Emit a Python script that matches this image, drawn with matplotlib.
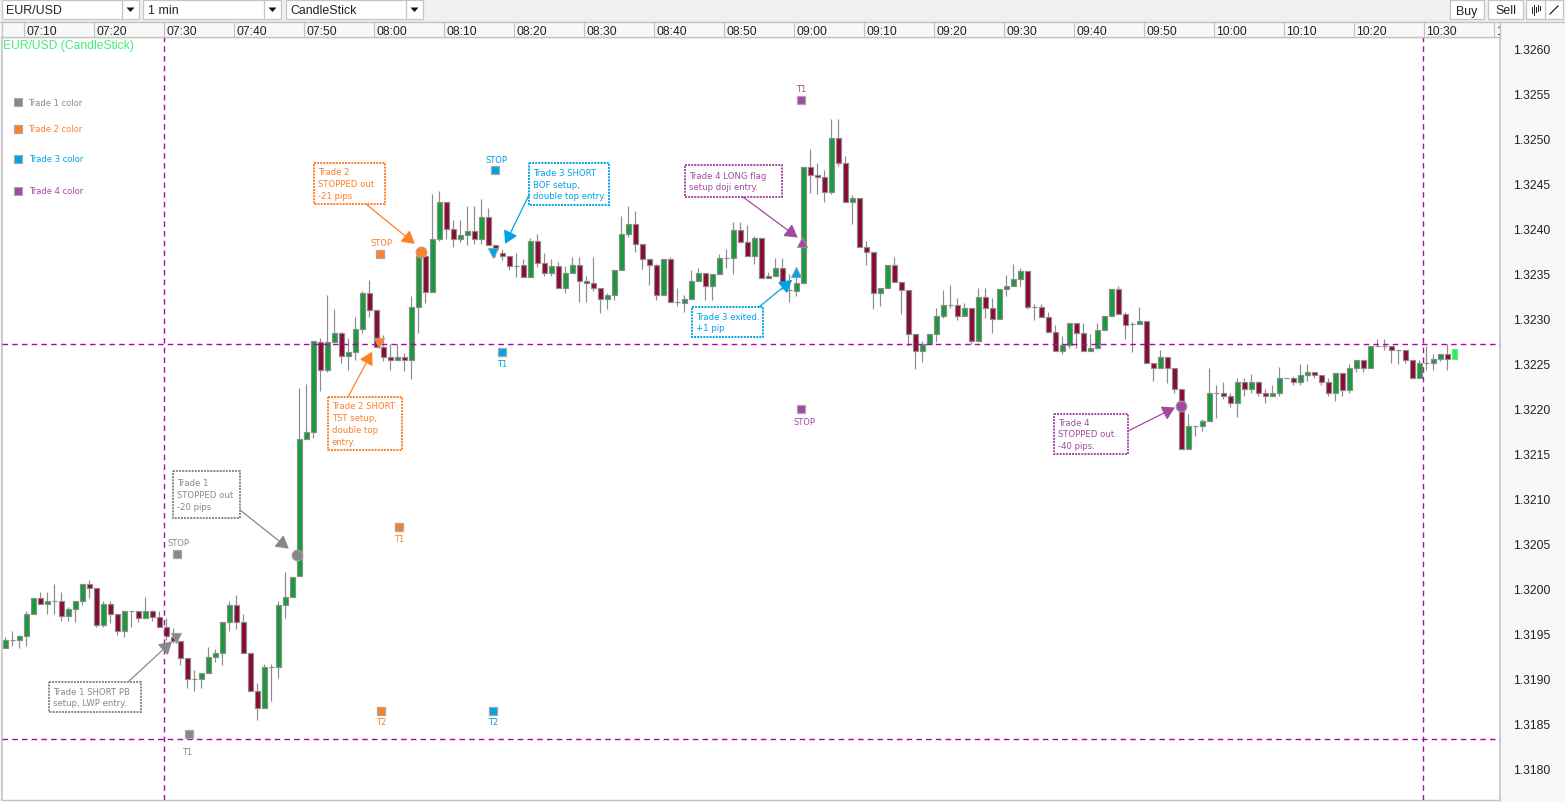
import matplotlib
matplotlib.use("Agg")
import matplotlib.pyplot as plt
from matplotlib.patches import Rectangle, Polygon
from matplotlib.transforms import ScaledTranslation

W, H = 1565, 803

# ---- candle data (one entry per minute) ----
opens = [
1.31934,1.31943,1.31943,1.31947,1.31971,1.31989,1.31983,1.31986,1.31986,1.31969,
1.31977,1.31986,1.32005,1.32000,1.31959,1.31983,1.31971,1.31952,1.31975,1.31975,
1.31967,1.31975,1.31968,1.31957,1.31946,1.31941,1.31922,1.31899,1.31899,1.31906,
1.31924,1.31928,1.31962,1.31981,1.31962,1.31928,1.31886,1.31867,1.31913,1.31913,
1.31981,1.31990,1.32014,1.32166,1.32174,1.32274,1.32243,1.32274,1.32284,1.32258,
1.32263,1.32288,1.32328,1.32309,1.32268,1.32257,1.32254,1.32257,1.32254,1.32313,
1.32369,1.32329,1.32388,1.32430,1.32399,1.32388,1.32393,1.32397,1.32388,1.32413,
1.32382,1.32373,1.32370,1.32358,1.32359,1.32346,1.32386,1.32362,1.32351,1.32358,
1.32334,1.32351,1.32359,1.32342,1.32339,1.32334,1.32322,1.32326,1.32354,1.32394,
1.32405,1.32383,1.32366,1.32359,1.32326,1.32366,1.32318,1.32317,1.32322,1.32342,
1.32351,1.32336,1.32349,1.32367,1.32367,1.32398,1.32385,1.32369,1.32389,1.32347,
1.32347,1.32356,1.32332,1.32331,1.32340,1.32468,1.32459,1.32457,1.32441,1.32501,
1.32473,1.32430,1.32434,1.32380,1.32374,1.32328,1.32334,1.32360,1.32341,1.32332,
1.32283,1.32264,1.32272,1.32283,1.32303,1.32315,1.32315,1.32303,1.32312,1.32275,
1.32324,1.32312,1.32299,1.32333,1.32336,1.32344,1.32353,1.32313,1.32313,1.32302,
1.32285,1.32264,1.32270,1.32295,1.32284,1.32264,1.32267,1.32287,1.32303,1.32333,
1.32305,1.32294,1.32294,1.32297,1.32251,1.32245,1.32257,1.32245,1.32222,1.32155,
1.32180,1.32180,1.32186,1.32217,1.32217,1.32214,1.32206,1.32229,1.32222,1.32229,
1.32217,1.32214,1.32217,1.32234,1.32234,1.32229,1.32237,1.32240,1.32237,1.32229,
1.32217,1.32239,1.32220,1.32245,1.32254,1.32245,1.32269,1.32269,1.32269,1.32265,
1.32265,1.32254,1.32234,1.32251,1.32251,1.32255,1.32261,1.32255]
highs = [
1.31946,1.31952,1.31948,1.31975,1.31989,1.31996,1.31996,1.32005,1.31996,1.31979,
1.31986,1.32005,1.32009,1.32000,1.31986,1.31986,1.31971,1.31975,1.31975,1.31975,
1.31990,1.31976,1.31975,1.31967,1.31956,1.31941,1.31922,1.31909,1.31906,1.31935,
1.31932,1.31962,1.31986,1.31992,1.31971,1.31928,1.31895,1.31916,1.31916,1.31986,
1.32018,1.32013,1.32223,1.32227,1.32275,1.32278,1.32326,1.32310,1.32285,1.32278,
1.32302,1.32331,1.32343,1.32309,1.32282,1.32272,1.32272,1.32262,1.32325,1.32369,
1.32369,1.32438,1.32442,1.32430,1.32409,1.32410,1.32425,1.32425,1.32433,1.32423,
1.32382,1.32377,1.32370,1.32373,1.32366,1.32390,1.32394,1.32373,1.32366,1.32363,
1.32358,1.32368,1.32368,1.32347,1.32368,1.32334,1.32328,1.32354,1.32414,1.32425,
1.32419,1.32383,1.32366,1.32361,1.32366,1.32368,1.32334,1.32326,1.32354,1.32356,
1.32351,1.32349,1.32372,1.32377,1.32407,1.32407,1.32404,1.32392,1.32389,1.32352,
1.32367,1.32367,1.32350,1.32356,1.32468,1.32488,1.32473,1.32465,1.32522,1.32522,
1.32481,1.32437,1.32434,1.32386,1.32374,1.32334,1.32360,1.32368,1.32341,1.32332,
1.32283,1.32275,1.32283,1.32312,1.32332,1.32337,1.32323,1.32317,1.32312,1.32334,
1.32334,1.32323,1.32333,1.32348,1.32361,1.32356,1.32353,1.32316,1.32316,1.32307,
1.32293,1.32281,1.32295,1.32295,1.32295,1.32283,1.32295,1.32303,1.32333,1.32336,
1.32307,1.32296,1.32313,1.32297,1.32251,1.32265,1.32257,1.32245,1.32222,1.32194,
1.32180,1.32188,1.32245,1.32226,1.32229,1.32217,1.32234,1.32234,1.32238,1.32231,
1.32222,1.32226,1.32246,1.32234,1.32236,1.32249,1.32249,1.32240,1.32237,1.32234,
1.32239,1.32239,1.32249,1.32254,1.32254,1.32269,1.32277,1.32277,1.32269,1.32265,
1.32265,1.32254,1.32254,1.32269,1.32261,1.32261,1.32272,1.32266]
lows = [
1.31934,1.31936,1.31934,1.31936,1.31971,1.31983,1.31971,1.31971,1.31964,1.31964,
1.31962,1.31981,1.31989,1.31957,1.31957,1.31961,1.31948,1.31946,1.31957,1.31962,
1.31967,1.31964,1.31957,1.31943,1.31939,1.31915,1.31889,1.31886,1.31889,1.31906,
1.31918,1.31915,1.31953,1.31955,1.31928,1.31886,1.31854,1.31867,1.31875,1.31900,
1.31967,1.31990,1.32014,1.32166,1.32167,1.32219,1.32241,1.32274,1.32250,1.32243,
1.32254,1.32284,1.32302,1.32268,1.32253,1.32243,1.32254,1.32242,1.32233,1.32284,
1.32317,1.32329,1.32386,1.32388,1.32379,1.32385,1.32382,1.32383,1.32383,1.32382,
1.32368,1.32365,1.32354,1.32346,1.32346,1.32346,1.32357,1.32347,1.32347,1.32334,
1.32328,1.32351,1.32318,1.32318,1.32331,1.32306,1.32311,1.32320,1.32354,1.32391,
1.32374,1.32355,1.32337,1.32320,1.32326,1.32318,1.32314,1.32307,1.32322,1.32342,
1.32321,1.32321,1.32349,1.32356,1.32349,1.32385,1.32369,1.32361,1.32345,1.32345,
1.32347,1.32332,1.32318,1.32325,1.32340,1.32439,1.32438,1.32430,1.32438,1.32470,
1.32430,1.32405,1.32379,1.32359,1.32311,1.32314,1.32334,1.32341,1.32305,1.32269,
1.32244,1.32252,1.32272,1.32274,1.32301,1.32312,1.32298,1.32303,1.32272,1.32275,
1.32300,1.32284,1.32299,1.32325,1.32336,1.32336,1.32311,1.32298,1.32302,1.32285,
1.32264,1.32261,1.32267,1.32267,1.32264,1.32264,1.32267,1.32287,1.32303,1.32305,
1.32277,1.32263,1.32294,1.32251,1.32230,1.32245,1.32228,1.32217,1.32155,1.32155,
1.32169,1.32175,1.32186,1.32189,1.32211,1.32202,1.32191,1.32214,1.32217,1.32214,
1.32206,1.32214,1.32214,1.32234,1.32226,1.32226,1.32230,1.32234,1.32226,1.32214,
1.32208,1.32214,1.32217,1.32240,1.32240,1.32245,1.32269,1.32265,1.32251,1.32249,
1.32251,1.32234,1.32234,1.32243,1.32243,1.32253,1.32243,1.32255]
closes = [
1.31943,1.31943,1.31947,1.31971,1.31989,1.31983,1.31986,1.31986,1.31969,1.31977,
1.31986,1.32005,1.32000,1.31959,1.31983,1.31971,1.31952,1.31975,1.31975,1.31967,
1.31975,1.31968,1.31957,1.31947,1.31941,1.31922,1.31899,1.31899,1.31906,1.31924,
1.31928,1.31962,1.31981,1.31962,1.31928,1.31886,1.31867,1.31913,1.31913,1.31981,
1.31990,1.32013,1.32166,1.32174,1.32275,1.32243,1.32274,1.32284,1.32258,1.32263,
1.32288,1.32328,1.32309,1.32268,1.32257,1.32254,1.32257,1.32254,1.32313,1.32369,
1.32329,1.32388,1.32430,1.32399,1.32388,1.32393,1.32397,1.32388,1.32413,1.32382,
1.32377,1.32370,1.32358,1.32358,1.32346,1.32386,1.32362,1.32351,1.32358,1.32334,
1.32351,1.32359,1.32342,1.32339,1.32334,1.32322,1.32326,1.32354,1.32394,1.32405,
1.32383,1.32366,1.32359,1.32326,1.32366,1.32318,1.32318,1.32322,1.32342,1.32351,
1.32336,1.32349,1.32367,1.32367,1.32398,1.32385,1.32369,1.32389,1.32345,1.32345,
1.32356,1.32339,1.32332,1.32340,1.32468,1.32459,1.32457,1.32441,1.32501,1.32473,
1.32430,1.32434,1.32379,1.32374,1.32328,1.32334,1.32360,1.32341,1.32332,1.32283,
1.32264,1.32272,1.32283,1.32303,1.32315,1.32315,1.32303,1.32312,1.32275,1.32324,
1.32312,1.32299,1.32333,1.32336,1.32344,1.32353,1.32313,1.32313,1.32302,1.32285,
1.32264,1.32270,1.32295,1.32284,1.32264,1.32267,1.32287,1.32303,1.32333,1.32305,
1.32293,1.32294,1.32297,1.32251,1.32245,1.32257,1.32245,1.32222,1.32155,1.32180,
1.32180,1.32186,1.32217,1.32217,1.32214,1.32206,1.32229,1.32222,1.32229,1.32217,
1.32214,1.32217,1.32234,1.32234,1.32229,1.32237,1.32240,1.32237,1.32229,1.32217,
1.32239,1.32220,1.32245,1.32254,1.32245,1.32269,1.32269,1.32269,1.32265,1.32265,
1.32254,1.32234,1.32251,1.32251,1.32255,1.32261,1.32255,1.32266]

time_labels = ["07:10","07:20","07:30","07:40","07:50","08:00","08:10","08:20","08:30",
               "08:40","08:50","09:00","09:10","09:20","09:30","09:40","09:50","10:00",
               "10:10","10:20","10:30","10:40"]
first_time_index = 2.67
price_ticks = [1.3180,1.3185,1.3190,1.3195,1.3200,1.3205,1.3210,1.3215,1.3220,
               1.3225,1.3230,1.3235,1.3240,1.3245,1.3250,1.3255,1.3260]

h_levels = [1.32272, 1.31832]
v_times = [22.74, 202.5]

# colours
C_GRAY, C_ORANGE, C_BLUE, C_PURPLE = "#888888", "#ff7f27", "#00a2e8", "#a349a4"
C_UP, C_DOWN, C_EDGE, C_LAST = "#179c3a", "#8b0a30", "#8c8c8c", "#22ee55"
C_GUIDE = "#b400b4"

# trade levels
level_x = [24.46, 26.3, 53.46, 56.2, 53.7, 70.0, 71.0, 69.7, 113.7, 113.7]
level_y = [1.32038, 1.31838, 1.32372, 1.32068, 1.31864, 1.32465, 1.32263, 1.31864, 1.32543, 1.32199]
level_label = ["STOP","T1","STOP","T1","T2","STOP","T1","T2","T1","STOP"]
level_color = [C_GRAY,C_GRAY,C_ORANGE,C_ORANGE,C_ORANGE,C_BLUE,C_BLUE,C_BLUE,C_PURPLE,C_PURPLE]
# label offset from the square, reference pixels (x right, y down)
level_dx = [1.5,-2.5,1.5,0,0,1.5,0,0,0,3.5]
level_dy = [-12,18,-11,11,11,-11,12,11,-11,12]

# entries / exits
entry_x = [24.4, 53.4, 69.7, 112.9, 113.8]
entry_y = [1.31945, 1.32273, 1.32373, 1.32352, 1.32385]
entry_marker = ["v","v","v","^","^"]
entry_color = [C_GRAY, C_ORANGE, C_BLUE, C_BLUE, C_PURPLE]

stop_x = [41.6, 59.4, 167.9]
stop_y = [1.32037, 1.32374, 1.32203]
stop_color = [C_GRAY, C_ORANGE, C_PURPLE]

legend_names = ["Trade 1 color","Trade 2 color","Trade 3 color","Trade 4 color"]
legend_colors = [C_GRAY, C_ORANGE, C_BLUE, C_PURPLE]

note_text = ["Trade 1 SHORT PB\nsetup, LWP entry.",
             "Trade 1\nSTOPPED out\n-20 pips",
             "Trade 2 SHORT\nTST setup,\ndouble top\nentry.",
             "Trade 2\nSTOPPED out\n-21 pips",
             "Trade 3 SHORT\nBOF setup,\ndouble top entry.",
             "Trade 3 exited.\n+1 pip",
             "Trade 4 LONG flag\nsetup doji entry.",
             "Trade 4\nSTOPPED out.\n-40 pips."]
note_color = [C_GRAY,C_GRAY,C_ORANGE,C_ORANGE,C_BLUE,C_BLUE,C_PURPLE,C_PURPLE]
note_tip_x = [23.81, 40.5, 52.4, 58.5, 71.4, 112.4, 113.2, 167.1]
note_tip_y = [1.31941, 1.32044, 1.32263, 1.32383, 1.32383, 1.32343, 1.32390, 1.32201]
# layout in reference pixels: box left, top, right, bottom, arrow start x, y
note_box = [(49,683,141,713,128,683),(173,472,240,519,240,511),(328,398,402,451,348,398),
            (314,164,385,205,366,205),(529,164,609,206,529,196),(692,308,763,338,759,308),
            (685,166,782,198,743,198),(1054,415,1128,455,1128,432)]

plt.rcParams["font.family"] = ["Liberation Sans", "DejaVu Sans"]
SMALL = ["DejaVu Sans"]
fig = plt.figure(figsize=(W/100, H/100), dpi=100, facecolor="#f0f0f0")

def px_axes(l, t, r, b, **kw):
    return fig.add_axes([l/W, 1-b/H, (r-l)/W, (b-t)/H], **kw)

# chrome layer
chrome = px_axes(0, 0, W, H)
chrome.set_xlim(0, W); chrome.set_ylim(H, 0); chrome.axis("off"); chrome.set_zorder(0)
chrome.add_patch(Rectangle((0,23), W, H-23, fc="#f8f8f8", ec="none"))
BORD = "#c4c4c4"
def widget(l, r, div=None, text=None, tx=None, arrow=True):
    chrome.add_patch(Rectangle((l,1), r-l, 19, fc="white", ec=BORD, lw=0.9))
    if div:
        chrome.plot([div,div],[1,20],color=BORD,lw=0.9)
        if arrow:
            cx = (div+r)/2
            chrome.add_patch(Polygon([(cx-4,8.5),(cx+4,8.5),(cx,13)],fc="#111111",ec="none"))
    if text:
        chrome.text(tx, 11.5, text, fontsize=8.9, color="#222222", va="center", ha="left")
widget(2,139,122,"EUR/USD",6)
widget(143,281,264,"1 min",148)
widget(286,423,406,"CandleStick",290)
widget(1450,1484); chrome.text(1467,11.5,"Buy",fontsize=8.9,color="#222222",va="center",ha="center")
widget(1488,1523); chrome.text(1505.5,11.5,"Sell",fontsize=8.9,color="#222222",va="center",ha="center")
widget(1526,1563,1545,arrow=False)
for xx,t0,t1 in [(1532,8,14),(1534,6,16),(1536,8,13),(1538,6,12),(1540,7,11)]:
    chrome.plot([xx,xx],[t0,t1],color="#222222",lw=0.7)
chrome.plot([1550,1558],[15,7],color="#222222",lw=0.9)
chrome.plot([0,W],[22.5,22.5],color=BORD,lw=1)

# main axes
x0 = (2-5.3)/7; x1 = (1500-5.3)/7
ax = px_axes(2, 38, 1500, 801)
ax.set_zorder(1)
ax.set_xlim(x0, x1)
ax.set_ylim(1.3260-(801-49.7)*1.112e-5, 1.3260+(49.7-38)*1.112e-5)
ax.set_facecolor("white")
for s in ["top","bottom"]:
    ax.spines[s].set_color(BORD); ax.spines[s].set_linewidth(1)
for s in ["left","right"]:
    ax.spines[s].set_color(BORD); ax.spines[s].set_linewidth(1.2)
ax.set_xticks([])
ax.yaxis.tick_right()
ax.set_yticks(price_ticks, [f"{p:.4f}" for p in price_ticks])
ax.tick_params(axis="y", length=0, pad=9.4, labelsize=8.7, labelcolor="#222222")

# guides
for lvl in h_levels:
    ax.axhline(lvl, color=C_GUIDE, lw=1.0, ls=(0,(4,3)), zorder=5)
for t in v_times:
    ax.axvline(t, color="#a0149f", lw=1.0, ls=(0,(4,3)), zorder=5)

# candles
idx = list(range(len(opens)))
ax.vlines(idx[:-1], lows[:-1], highs[:-1], color=C_EDGE, lw=0.85, zorder=2)
bc = []
for o, c in zip(opens, closes):
    bc.append(C_UP if c > o else (C_DOWN if c < o else C_EDGE))
bc[-1] = C_LAST
ec = [C_EDGE]*(len(opens)-1) + ["#66ee88"]
ax.bar(idx, [c-o for o,c in zip(opens,closes)], bottom=opens, width=0.64,
       color=bc, edgecolor=ec, linewidth=0.85, zorder=3)

# trade levels
for x,y,lab,col,dx,dy in zip(level_x,level_y,level_label,level_color,level_dx,level_dy):
    ax.scatter([x],[y],marker="s",s=40,color=col,edgecolors="#a8a8a8",linewidths=0.9,zorder=6)
    ax.annotate(lab,(x,y),xytext=(dx*0.72,-dy*0.72),textcoords="offset points",
                ha="center",va="center",fontsize=6,color=col,family=SMALL,zorder=6)
for x,y,m,col in zip(entry_x,entry_y,entry_marker,entry_color):
    ax.scatter([x],[y],marker=m,s=58,color=col,edgecolors="#a8a8a8",linewidths=0.5,zorder=6)
for x,y,col in zip(stop_x,stop_y,stop_color):
    ax.scatter([x],[y],marker="o",s=62,color=col,edgecolors="#a8a8a8",linewidths=0.7,zorder=6)

# time strip
tm = px_axes(2, 23, 1500, 38)
tm.set_zorder(1)
tm.set_xlim(x0, x1); tm.set_ylim(0, 1)
tm.set_facecolor("#f8f8f8")
tm.set_yticks([])
for s in tm.spines.values():
    s.set_color(BORD); s.set_linewidth(1)
tm.set_xticks([first_time_index+10*i for i in range(len(time_labels))], time_labels)
tm.tick_params(axis="x", direction="in", length=10.8, color=BORD, width=0.9,
               labelsize=8.7, pad=-8.5, labelcolor="#222222")
off = ScaledTranslation(2.5/100, 0, fig.dpi_scale_trans)
for lb in tm.get_xticklabels():
    lb.set_ha("left")
    lb.set_clip_box(tm.bbox); lb.set_clip_on(True)
    lb.set_transform(lb.get_transform()+off)

# overlay in reference pixels
ov = px_axes(0, 0, W, H)
ov.set_xlim(0, W); ov.set_ylim(H, 0); ov.axis("off"); ov.set_zorder(3); ov.patch.set_alpha(0)

ov.text(3, 46, "EUR/USD (CandleStick)", fontsize=8.7, color="#44ee77", va="center", ha="left")

for name,col,yy,tx in zip(legend_names,legend_colors,[103,130,160,192],[28,28,29,29]):
    ov.scatter([17.5],[yy],marker="s",s=40,color=col,edgecolors="#a8a8a8",linewidths=0.8)
    ov.text(tx,yy,name,fontsize=6,color=col,va="center",ha="left",family=SMALL)

for txt,col,bx,tx,ty in zip(note_text,note_color,note_box,note_tip_x,note_tip_y):
    l,t,r,b,sx,sy = bx
    ov.add_patch(Rectangle((l,t),r-l,b-t,fc="white",ec=col,lw=1.4,ls=(0,(1,0.6)),zorder=2))
    ov.text(l+4,(t+b)/2,txt,fontsize=6.1,color=col,va="center",ha="left",family=SMALL,
            linespacing=1.42,zorder=3)
    ov.annotate("",xy=(tx,ty),xycoords=ax.transData,xytext=(sx,sy),textcoords=ov.transData,
                arrowprops=dict(arrowstyle="-|>,head_length=0.55,head_width=0.32",color=col,lw=0.9,
                                shrinkA=0,shrinkB=0,mutation_scale=14),zorder=4)

fig.savefig("out.png", dpi=100, facecolor=fig.get_facecolor())
